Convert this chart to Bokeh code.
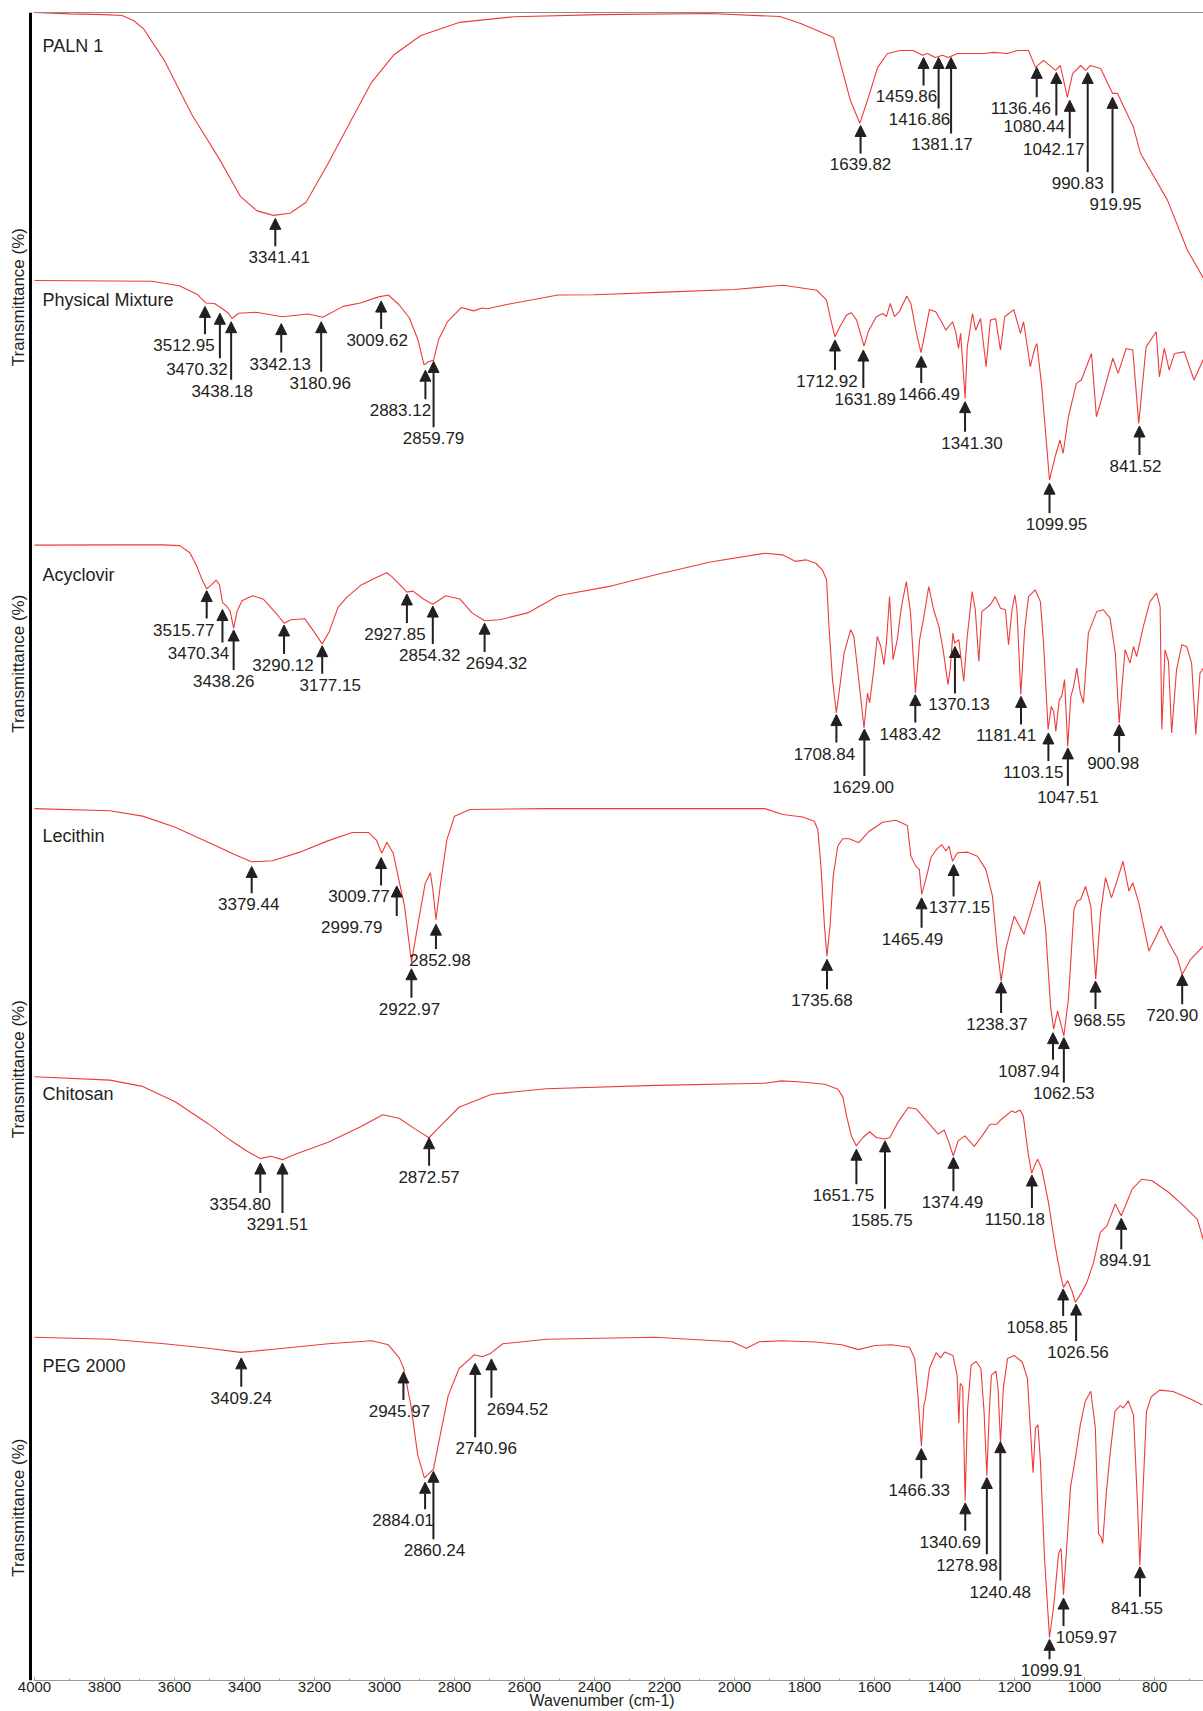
from math import pi
from bokeh.plotting import figure
from bokeh.models import (Range1d, LinearAxis, FixedTicker, SingleIntervalTicker,
                          Span, Arrow, NormalHead, ColumnDataSource)
from bokeh.embed import file_html
from bokeh.resources import INLINE
from bokeh.core.properties import value

# ---------------- data (wavenumber cm-1, transmittance %) ----------------
paln_w = [4000, 3900, 3800, 3750, 3717, 3689, 3629, 3551, 3473, 3411, 3364, 3317, 3270, 3224,
          3162, 3099, 3037, 2974, 2896, 2787, 2631, 2382, 2070, 1870, 1811, 1717, 1669, 1642,
          1620, 1591, 1563, 1526, 1489, 1463, 1449, 1426, 1406, 1389, 1363, 1334, 1289, 1260,
          1220, 1191, 1160, 1140, 1117, 1083, 1069, 1049, 1034, 1011, 997, 983, 954, 920, 906,
          860, 840, 763, 706, 660]
paln_t = [100, 99.5, 99.2, 98.9, 97.0, 94.0, 82.1, 62.0, 45.5, 31.2, 25.9, 24.2, 25.0, 29.1,
          43.4, 58.8, 73.9, 84.1, 91.4, 96.3, 98.4, 99.2, 99.6, 98.5, 95.9, 90.7, 67.2, 58.6,
          67.2, 79.5, 84.7, 85.8, 85.8, 84.0, 84.7, 83.2, 84.0, 83.2, 84.7, 84.7, 84.7, 85.1,
          84.7, 85.8, 85.8, 79.5, 82.1, 78.4, 80.2, 68.3, 77.2, 80.2, 78.4, 80.2, 79.1, 69.8, 69.8,
          57.1, 47.4, 29.9, 11.2, 0.7]
paln_peaks = ["3341.41", "1639.82", "1459.86", "1416.86", "1381.17", "1136.46", "1080.44",
              "1042.17", "990.83", "919.95"]
paln_peak_w = [3312, 1639.82, 1459.86, 1416.86, 1381.17, 1136.46, 1080.44, 1042.17, 990.83, 919.95]
paln_peak_t = [23.1, 57.8, 83.2, 83.2, 83.2, 79.5, 77.6, 67.2, 77.6, 68.3]

pm_w = [4000, 3665, 3586, 3536, 3511, 3486, 3468, 3446, 3436, 3417, 3367, 3292, 3218, 3176, 3118,
        3069, 3019, 2989, 2959, 2929, 2905, 2887, 2873, 2860, 2845, 2820, 2780, 2745, 2721, 2706,
        2651, 2504, 2400, 2200, 2000, 1860, 1765, 1737, 1727, 1713, 1699, 1680, 1666, 1651, 1630,
        1618, 1595, 1576, 1566, 1555, 1543, 1529, 1508, 1496, 1481, 1467, 1458, 1443, 1425, 1406,
        1396, 1377, 1368, 1360, 1354, 1341, 1335, 1320, 1311, 1297, 1281, 1269, 1254, 1240, 1228,
        1202, 1183, 1174, 1155, 1141, 1136, 1122, 1100, 1084, 1070, 1061, 1046, 1023, 1009, 980,
        966, 952, 919, 904, 881, 862, 845, 824, 795, 786, 772, 758, 743, 715, 687, 659]
pm_t = [99.9, 99.6, 97.9, 94.7, 91.4, 91.2, 89.7, 87.5, 85.5, 87.5, 87.9, 86.2, 87.2, 86.0, 90.1,
        91.4, 93.6, 94.4, 90.8, 85.7, 77.7, 68.0, 69.3, 69.7, 77.7, 84.3, 89.7, 88.4, 89.5, 89.2,
        90.8, 94.4, 94.5, 95.5, 96.5, 98.1, 96.2, 92.5, 86.2, 78.6, 82.4, 86.8, 87.7, 84.9, 75.1,
        80.5, 86.2, 87.4, 86.2, 91.2, 86.2, 88.1, 94.0, 91.2, 80.5, 72.6, 78.6, 88.9, 88.1, 83.6,
        81.1, 84.3, 80.5, 74.2, 79.9, 55.4, 74.8, 87.4, 81.1, 85.5, 67.3, 84.9, 85.5, 73.6, 86.2,
        88.9, 79.9, 84.3, 67.3, 74.8, 76.1, 59.7, 24.5, 33.3, 39.6, 34.6, 48.4, 61.0, 62.3, 72.3,
        48.4, 54.7, 70.5, 64.8, 74.2, 73.6, 45.9, 74.8, 80.5, 63.5, 74.2, 66.0, 72.3, 72.9, 62.3, 70.5]
pm_peaks = ["3512.95", "3470.32", "3438.18", "3342.13", "3180.96", "3009.62", "2883.12", "2859.79",
            "1712.92", "1631.89", "1466.49", "1341.30", "1099.95", "841.52"]
pm_peak_w = [3512.95, 3470.32, 3438.18, 3295, 3180.96, 3009.62, 2883.12, 2859.79,
             1712.92, 1631.89, 1466.49, 1341.30, 1099.95, 843]
pm_peak_t = [90.1, 87.5, 84.3, 83.6, 84.3, 92.1, 66.0, 69.3, 77.4, 73.6, 71.3, 54.1, 23.3, 44.9]

acv_w = [4000, 3764, 3635, 3585, 3556, 3536, 3521, 3508, 3496, 3481, 3471, 3463, 3451, 3441, 3431,
         3421, 3407, 3377, 3347, 3307, 3287, 3267, 3228, 3208, 3178, 3158, 3133, 3108, 3068, 3029,
         2994, 2979, 2964, 2936, 2919, 2889, 2862, 2825, 2785, 2750, 2714, 2671, 2591, 2504, 2350,
         2225, 2069, 1913, 1863, 1825, 1796, 1768, 1749, 1737, 1730, 1720, 1709, 1699, 1687, 1668,
         1659, 1646, 1630, 1620, 1614, 1601, 1592, 1582, 1573, 1566, 1557, 1547, 1535, 1523, 1509,
         1497, 1483, 1471, 1459, 1445, 1431, 1416, 1404, 1390, 1383, 1376, 1371, 1359, 1345, 1335,
         1321, 1312, 1302, 1293, 1269, 1255, 1240, 1226, 1217, 1207, 1199, 1193, 1182, 1171, 1160,
         1141, 1126, 1117, 1104, 1095, 1088, 1082, 1072, 1065, 1057, 1048, 1039, 1031, 1022, 1012,
         1003, 989, 965, 946, 927, 912, 901, 892, 884, 870, 860, 851, 832, 813, 794, 784, 779, 770,
         760, 751, 737, 722, 708, 694, 682, 670, 657]
acv_t = [99.9, 100, 100, 99.7, 97.0, 91.8, 86.6, 83.3, 84.6, 86.6, 84.6, 78.0, 76.7, 74.8, 68.2,
         74.8, 78.7, 80.6, 79.4, 73.5, 70.2, 71.5, 71.9, 68.2, 62.3, 66.9, 76.1, 80.0, 84.6, 87.2,
         89.4, 87.9, 85.9, 82.0, 82.4, 79.4, 77.4, 80.6, 79.4, 74.1, 71.1, 71.5, 74.1, 80.6, 84.4,
         88.6, 93.5, 96.8, 96.2, 93.7, 94.3, 93.0, 90.5, 86.7, 68.9, 48.7, 36.0, 46.1, 58.8, 67.7,
         65.1, 49.9, 30.3, 43.6, 39.8, 53.7, 65.1, 61.3, 54.4, 62.6, 80.3, 56.3, 63.9, 76.5, 86.0,
         74.0, 43.6, 63.9, 72.7, 84.1, 75.3, 68.9, 60.1, 46.8, 53.7, 66.4, 62.6, 63.9, 48.0, 65.1,
         82.2, 75.3, 55.6, 74.6, 77.2, 80.3, 75.9, 75.3, 62.0, 75.3, 81.0, 75.3, 43.0, 67.7, 80.3,
         82.9, 78.4, 62.6, 29.7, 38.5, 36.6, 29.0, 41.1, 42.3, 48.7, 23.3, 42.3, 46.1, 53.1, 43.6,
         39.8, 66.4, 74.6, 75.3, 72.1, 58.8, 32.2, 47.4, 60.1, 55.0, 61.3, 57.5, 68.9, 78.4, 81.6,
         76.5, 29.7, 60.1, 55.6, 28.4, 52.5, 62.0, 61.3, 55.0, 27.8, 51.2, 53.7]
acv_peaks = ["3515.77", "3470.34", "3438.26", "3290.12", "3177.15", "2927.85", "2854.32", "2694.32",
             "1708.84", "1629.00", "1483.42", "1370.13", "1181.41", "1103.15", "1047.51", "900.98"]
acv_peak_w = [3508, 3463, 3431, 3287, 3178, 2936, 2862, 2714,
              1708.84, 1629.00, 1483.42, 1370.13, 1181.41, 1103.15, 1047.51, 900.98]
acv_peak_t = [82.6, 75.4, 67.6, 69.5, 61.6, 81.3, 76.7, 70.2, 35.4, 29.9, 43.0, 61.3, 42.3, 28.4,
              22.7, 31.6]

lec_w = [4000, 3785, 3691, 3598, 3504, 3430, 3380, 3320, 3242, 3164, 3092, 3045, 3023, 3008, 2993,
         2975, 2960, 2943, 2923, 2906, 2884, 2869, 2862, 2853, 2840, 2822, 2800, 2756, 2537, 2225,
         1913, 1862, 1805, 1772, 1762, 1753, 1743, 1736, 1727, 1718, 1705, 1691, 1672, 1645, 1615,
         1577, 1539, 1506, 1496, 1482, 1472, 1465, 1451, 1439, 1423, 1408, 1396, 1387, 1377, 1363,
         1334, 1306, 1282, 1263, 1249, 1238, 1225, 1201, 1173, 1149, 1128, 1111, 1097, 1088, 1077,
         1059, 1046, 1030, 1021, 1011, 997, 982, 968, 954, 940, 923, 906, 890, 873, 862, 845, 816,
         797, 781, 759, 735, 721, 697, 655]
lec_t = [99.6, 98.8, 96.8, 92.7, 87.1, 82.6, 79.8, 80.2, 83.4, 87.5, 90.7, 90.7, 87.9, 83.0, 87.1,
         83.0, 73.7, 63.5, 42.4, 55.4, 71.6, 75.7, 69.6, 58.3, 71.6, 87.9, 96.8, 99.3, 99.6, 99.6,
         99.6, 97.4, 96.5, 94.9, 91.8, 78.2, 55.9, 44.7, 55.9, 74.5, 85.6, 88.4, 88.4, 86.9, 91.2,
         94.5, 95.3, 93.3, 81.9, 78.2, 77.0, 67.7, 74.5, 81.3, 84.4, 86.2, 83.8, 85.6, 80.0, 83.2,
         83.4, 81.9, 77.0, 67.0, 47.2, 35.4, 47.2, 59.6, 52.8, 63.3, 72.6, 54.6, 26.1, 17.5, 24.3,
         15.0, 28.6, 62.1, 65.2, 65.8, 70.7, 63.3, 36.1, 60.9, 73.9, 66.4, 73.2, 80.0, 68.9, 72.0,
         64.6, 46.6, 51.6, 55.9, 49.7, 44.1, 37.9, 43.5, 49.1]
lec_peaks = ["3379.44", "3009.77", "2999.79", "2922.97", "2852.98", "1735.68", "1465.49", "1377.15",
             "1238.37", "1087.94", "1062.53", "968.55", "720.90"]
lec_peak_w = [3379.44, 3009.77, 2965, 2922.97, 2852.98, 1735.68, 1465.49, 1374, 1238.37, 1090,
              1059, 968.55, 720.90]
lec_peak_t = [78.1, 81.4, 70.8, 40.0, 56.6, 43.5, 66.4, 78.8, 35.1, 16.2, 14.4, 35.4, 37.9]

chi_w = [4000, 3785, 3691, 3598, 3504, 3442, 3395, 3355, 3325, 3292, 3255, 3161, 3068, 3005, 2958,
         2912, 2873, 2849, 2787, 2694, 2538, 2226, 1914, 1866, 1809, 1742, 1704, 1690, 1680, 1666,
         1652, 1633, 1614, 1595, 1571, 1556, 1533, 1504, 1480, 1447, 1418, 1401, 1389, 1375, 1361,
         1342, 1315, 1289, 1270, 1251, 1237, 1208, 1198, 1184, 1175, 1160, 1151, 1143, 1134, 1122,
         1103, 1084, 1070, 1060, 1048, 1036, 1026, 1008, 993, 974, 955, 936, 912, 895, 883, 864,
         836, 807, 759, 712, 678, 655]
chi_t = [99.8, 98.5, 96.1, 90.2, 81.8, 75.6, 71.4, 68.4, 69.3, 68.0, 70.1, 74.7, 80.6, 85.2, 83.9,
         79.7, 76.4, 79.7, 88.1, 93.1, 95.2, 96.5, 97.3, 98.2, 97.8, 96.9, 95.0, 91.8, 84.8, 77.1,
         73.3, 76.5, 78.7, 76.5, 75.9, 76.5, 82.3, 88.0, 87.4, 82.3, 77.8, 79.4, 75.2, 69.5, 75.2,
         77.1, 73.1, 77.8, 81.6, 81.6, 83.5, 86.7, 86.1, 87.0, 84.8, 69.5, 62.8, 65.6, 68.2, 64.4,
         51.6, 35.0, 24.8, 19.0, 21.6, 17.7, 13.3, 17.1, 21.0, 28.6, 40.1, 42.6, 51.0, 46.5, 50.3,
         56.7, 60.5, 59.9, 55.4, 49.7, 45.2, 35.0]
chi_peaks = ["3354.80", "3291.51", "2872.57", "1651.75", "1585.75", "1374.49", "1150.18", "1058.85",
             "1026.56", "894.91"]
chi_peak_w = [3354.80, 3291.51, 2872.57, 1651.75, 1570, 1374.49, 1150.18, 1061, 1024, 894.91]
chi_peak_t = [66.7, 66.7, 76.4, 72.0, 75.2, 68.9, 62.1, 18.4, 12.6, 45.5]

peg_w = [4000, 3785, 3629, 3504, 3411, 3317, 3161, 3036, 2989, 2958, 2945, 2924, 2905, 2886, 2870,
         2860, 2843, 2818, 2787, 2756, 2743, 2721, 2697, 2662, 2537, 2226, 2007, 1966, 1929, 1864,
         1769, 1694, 1646, 1599, 1552, 1500, 1485, 1476, 1466, 1459, 1454, 1443, 1424, 1411, 1400,
         1376, 1364, 1359, 1355, 1348, 1341, 1334, 1324, 1310, 1296, 1287, 1279, 1272, 1266, 1253,
         1247, 1240, 1232, 1220, 1201, 1178, 1163, 1156, 1147, 1140, 1133, 1126, 1114, 1100, 1088,
         1074, 1067, 1060, 1052, 1040, 1026, 1012, 998, 982, 969, 960, 953, 948, 938, 927, 913, 898,
         889, 875, 860, 849, 842, 834, 823, 809, 785, 747, 700, 663]
peg_t = [99.9, 99.3, 98.0, 96.7, 95.5, 96.4, 98.0, 98.9, 97.7, 93.9, 90.8, 79.7, 65.6, 59.0, 60.5,
         61.5, 70.3, 82.9, 90.8, 93.6, 94.8, 94.2, 95.2, 98.0, 99.3, 99.9, 98.6, 96.7, 98.6, 98.9,
         98.5, 97.7, 96.3, 97.5, 97.7, 97.0, 93.7, 83.1, 68.2, 80.2, 82.1, 90.8, 95.4, 93.9, 95.6,
         94.6, 88.9, 74.9, 86.5, 85.5, 52.4, 79.3, 91.7, 92.9, 90.8, 78.3, 59.6, 78.3, 88.9, 90.0,
         85.0, 69.2, 85.0, 93.7, 94.6, 92.7, 87.9, 75.4, 60.5, 73.5, 74.4, 63.9, 35.1, 12.5, 21.6,
         37.0, 38.4, 25.0, 37.0, 56.2, 64.8, 74.4, 81.2, 84.2, 73.5, 42.7, 41.8, 39.9, 54.3, 65.8,
         78.3, 80.0, 79.3, 81.4, 77.3, 52.4, 33.6, 52.4, 78.3, 82.6, 84.5, 84.1, 82.1, 80.2]
peg_peaks = ["3409.24", "2945.97", "2884.01", "2860.24", "2740.96", "2694.52", "1466.33", "1340.69",
             "1278.98", "1240.48", "1099.91", "1059.97", "841.55"]
peg_peak_w = [3409.24, 2945.97, 2884.01, 2860.24, 2740.96, 2694.52, 1466.33, 1340.69, 1278.98,
              1240.48, 1099.91, 1059.97, 841.55]
peg_peak_t = [93.9, 89.8, 57.7, 60.9, 92.3, 93.6, 67.5, 51.7, 59.1, 69.5, 12.0, 24.0, 33.1]

sample_names = ["PALN 1", "Physical Mixture", "Acyclovir", "Lecithin", "Chitosan", "PEG 2000"]
x_ticks_step = 200

# ---------------- layout / style (pixels) ----------------
paln_arrow_px = [28, 28, 28, 51, 76, 30, 43, 38, 100, 96]
paln_label_dx = [4, 0, -17, -19, -9, -16, -22, -16, -10, 3]
pm_arrow_px = [28, 45, 58, 29, 50, 28, 29, 66, 30, 38, 27, 30, 30, 29]
pm_label_dx = [-21, -23, -9, -1, -1, -4, -25, 0, -8, 2, 8, 7, 7, -4]
acv_arrow_px = [28, 33, 40, 29, 28, 29, 38, 29, 28, 47, 28, 47, 28, 28, 38, 28]
acv_label_dx = [-23, -24, -10, -1, 8, -12, -3, 12, -12, -1, -5, 4, -15, -15, 0, -6]
lec_arrow_px = [27, 28, 30, 29, 25, 30, 30, 32, 31, 27, 45, 28, 30]
lec_label_dx = [-3, -22, -45, -2, 4, -5, -9, 6, -4, -24, 0, 4, -10]
chi_arrow_px = [30, 50, 28, 35, 68, 34, 33, 27, 37, 31]
chi_label_dx = [-20, -5, 0, -13, -3, -1, -17, -26, 2, 4]
peg_arrow_px = [29, 28, 27, 68, 74, 39, 30, 28, 77, 139, 20, 28, 30]
peg_label_dx = [0, -4, -22, 1, 11, 26, -2, -15, -20, 0, 2, 23, -3]

W, H = 1203, 1711
TOP, BOTTOM = 12, 29
FRAME_H = H - TOP - BOTTOM
FRAME_BOTTOM = TOP + FRAME_H
PX = 0.35                        # pixels per cm-1
X_START = 4000 + 34 / PX         # wavenumber 4000 sits 34 px from the left edge
X_END = X_START - W / PX
INK = "#231f20"
RED = "#ee3b3b"
FONT = "Liberation Sans"

bands = [(12, 280), (280, 545), (545, 808), (808, 1077), (1077, 1338), (1338, FRAME_BOTTOM)]
name_y = [46, 300, 575, 836, 1095, 1367]
ylabel_y = [297, 664, 1070, 1509]
LABEL_GAP = 11


def cx(px):
    return X_START - px / PX


def cy(px):
    return FRAME_BOTTOM - px


p = figure(width=W, height=H, x_range=Range1d(X_START, X_END), y_range=Range1d(0, FRAME_H),
           output_backend="svg", toolbar_location=None, x_axis_location=None,
           y_axis_location=None, min_border_left=0, min_border_right=0,
           min_border_top=TOP, min_border_bottom=BOTTOM)
p.outline_line_color = None
p.xgrid.visible = False
p.ygrid.visible = False

bottom_axis = LinearAxis(ticker=SingleIntervalTicker(interval=x_ticks_step, num_minor_ticks=2),
                         bounds=(X_END, cx(33)))
bottom_axis.axis_line_color = "#9a9a9a"
bottom_axis.major_tick_line_color = "#9a9a9a"
bottom_axis.minor_tick_line_color = "#9a9a9a"
bottom_axis.major_tick_in = 3
bottom_axis.major_tick_out = 0
bottom_axis.minor_tick_in = 2
bottom_axis.minor_tick_out = 0
bottom_axis.major_label_standoff = 1
bottom_axis.major_label_text_font = FONT
bottom_axis.major_label_text_font_size = "15px"
bottom_axis.major_label_text_color = INK
bottom_axis.axis_label = "Wavenumber (cm-1)"
bottom_axis.axis_label_text_font = FONT
bottom_axis.axis_label_text_font_size = "16px"
bottom_axis.axis_label_text_font_style = "normal"
bottom_axis.axis_label_text_color = INK
bottom_axis.axis_label_standoff = -3
p.add_layout(bottom_axis, "below")

top_axis = LinearAxis(ticker=FixedTicker(ticks=[]), axis_line_color="#8c8c8c", axis_line_width=1.2,
                      major_tick_line_color=None, minor_tick_line_color=None,
                      major_tick_out=0, major_tick_in=0, bounds=(X_END, cx(33)))
p.add_layout(top_axis, "above")

p.add_layout(Span(location=cx(30), dimension="height", line_color="black", line_width=3))

series = [
    (paln_w, paln_t, paln_peaks, paln_peak_w, paln_peak_t, paln_arrow_px, paln_label_dx),
    (pm_w, pm_t, pm_peaks, pm_peak_w, pm_peak_t, pm_arrow_px, pm_label_dx),
    (acv_w, acv_t, acv_peaks, acv_peak_w, acv_peak_t, acv_arrow_px, acv_label_dx),
    (lec_w, lec_t, lec_peaks, lec_peak_w, lec_peak_t, lec_arrow_px, lec_label_dx),
    (chi_w, chi_t, chi_peaks, chi_peak_w, chi_peak_t, chi_arrow_px, chi_label_dx),
    (peg_w, peg_t, peg_peaks, peg_peak_w, peg_peak_t, peg_arrow_px, peg_label_dx),
]

ranges = {}
scales = []
for i, (a, b) in enumerate(bands):
    k = 100.0 / (b - a)          # % per pixel
    bot_f = FRAME_BOTTOM - b
    ranges["p%d" % i] = Range1d(-bot_f * k, 100 + (a - TOP) * k)
    scales.append(k)
p.extra_y_ranges = ranges

for i, (w, t, labs, pw, pt, alen, dx) in enumerate(series):
    rn = "p%d" % i
    k = scales[i]
    p.line(w, t, line_color=RED, line_width=1.1, y_range_name=rn)

    src = ColumnDataSource(dict(
        x=pw,
        y1=pt,
        y0=[tt - L * k for tt, L in zip(pt, alen)],
    ))
    p.add_layout(Arrow(end=NormalHead(size=11, fill_color=INK, line_color=INK, line_width=1),
                       x_start="x", y_start="y0", x_end="x", y_end="y1", source=src,
                       line_color=INK, line_width=2, y_range_name=rn))

    lsrc = ColumnDataSource(dict(
        x=[ww - d / PX for ww, d in zip(pw, dx)],
        y=[tt - (L + LABEL_GAP) * k for tt, L in zip(pt, alen)],
        text=labs,
    ))
    p.text(x="x", y="y", text="text", source=lsrc, text_align="center", text_baseline="middle",
           text_font=value(FONT), text_font_size="17px", text_color=INK, y_range_name=rn)

    p.text(x=[cx(42)], y=[cy(name_y[i])], text=[sample_names[i]], text_align="left",
           text_baseline="middle", text_font=value(FONT), text_font_size="18px", text_color=INK)

p.text(x=[cx(18)] * len(ylabel_y), y=[cy(v) for v in ylabel_y],
       text=["Transmittance (%)"] * len(ylabel_y), angle=pi / 2, text_align="center",
       text_baseline="middle", text_font=value(FONT), text_font_size="17px", text_color=INK)

open("out.html", "w").write(file_html(p, INLINE))
